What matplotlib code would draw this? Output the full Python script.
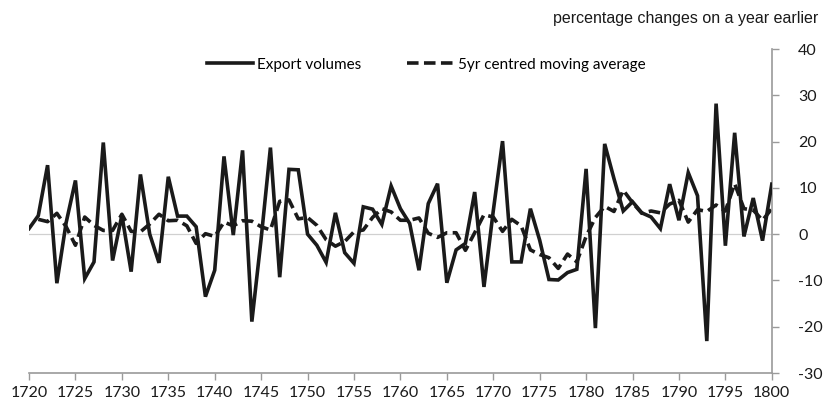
import matplotlib
matplotlib.use("Agg")
from matplotlib import pyplot as plt

plt.rcParams['axes.unicode_minus'] = False

# years and values
years = list(range(1720, 1801))
export_volumes = [
    1.2, 4.0, 14.9, -10.6, 2.5, 11.6, -9.6, -6.0, 19.8, -5.7,
    4.1, -8.1, 12.9, 0.0, -6.2, 12.4, 3.9, 3.9, 1.6, -13.5,
    -7.8, 16.8, -0.2, 18.1, -18.9, -1.0, 18.7, -9.3, 14.0, 13.9,
    0.0, -2.4, -6.1, 4.6, -4.0, -6.3, 5.9, 5.4, 2.1, 10.4,
    5.5, 2.3, -7.8, 6.6, 10.9, -10.5, -3.4, -2.0, 9.1, -11.4,
    5.0, 20.1, -6.0, -6.0, 5.5, -1.3, -9.8, -9.9, -8.3, -7.6,
    14.1, -20.3, 19.5, 12.0, 5.0, 7.0, 4.6, 3.7, 1.2, 10.8,
    3.0, 13.3, 8.3, -23.1, 28.2, -2.5, 21.9, -0.5, 7.8, -1.4,
    10.8,
]

ma_years = list(range(1721, 1801))
moving_avg = [
    3.2, 2.7, 4.5, 1.6, -2.4, 3.7, 1.9, 0.8, 0.8,
    4.3, 0.6, 0.5, 2.2, 4.3, 2.9, 3.0, 1.8, -2.0, 0.1,
    -0.5, 2.6, 1.8, 2.9, 2.8, 1.6, 0.9, 7.1, 7.4, 3.3,
    3.6, 1.9, -1.2, -2.6, -1.6, 0.5, 0.9, 3.6, 5.5, 4.8,
    3.0, 3.0, 3.5, 0.2, -0.7, 0.3, 0.3, -3.5, 0.3, 4.2,
    3.7, 0.6, 3.2, 1.8, -3.4, -4.4, -5.1, -7.4, -4.3, -6.0,
    -0.5, 3.6, 6.0, 4.9, 9.5, 6.8, 4.5, 5.0, 4.6, 6.5,
    7.3, 2.6, 5.3, 4.9, 6.3, 5.0, 10.9, 5.5, 5.2, 3.0,
    5.5,
]

xticks = list(range(1720, 1801, 5))
yticks = list(range(-30, 41, 10))

fig = plt.figure(figsize=(8.29, 4.05), dpi=100)
ax = fig.add_axes([0.035, 0.079, 0.896, 0.800])

ax.axhline(0, color="#d0d0d0", lw=0.9, zorder=1)
ax.plot(years, export_volumes, color="#1a1a1a", lw=2.6,
        solid_joinstyle="miter", label="Export volumes", zorder=3)
ax.plot(ma_years, moving_avg, color="#1a1a1a", lw=2.6, dashes=(3.2, 1.5),
        label="5yr centred moving average", zorder=2)

ax.set_xlim(1720, 1800)
ax.set_ylim(-30, 40)
ax.set_xticks(xticks)
ax.set_yticks(yticks)
ax.yaxis.tick_right()

grey = "#9a9a9a"
for side in ["left", "top"]:
    ax.spines[side].set_visible(False)
for side in ["bottom", "right"]:
    ax.spines[side].set_color(grey)
    ax.spines[side].set_linewidth(1.2)
ax.tick_params(axis="both", colors=grey, length=5, width=1.0,
               labelcolor="#1a1a1a", labelsize=11.5)
ax.tick_params(axis="x", pad=4)
ax.tick_params(axis="y", pad=14)
for lab in ax.get_xticklabels() + ax.get_yticklabels():
    lab.set_fontfamily("Lato")

fig.text(0.987, 0.955, "percentage changes on a year earlier",
         ha="right", va="center", fontsize=11.5, family="Liberation Sans",
         color="#1a1a1a")

fig.legend(loc="center", bbox_to_anchor=(0.514, 0.84), ncol=2, frameon=False,
           handlelength=3.0, handletextpad=0.3, columnspacing=3.0,
           prop={"family": "Lato", "size": 11})

fig.savefig("out.png", dpi=100)
